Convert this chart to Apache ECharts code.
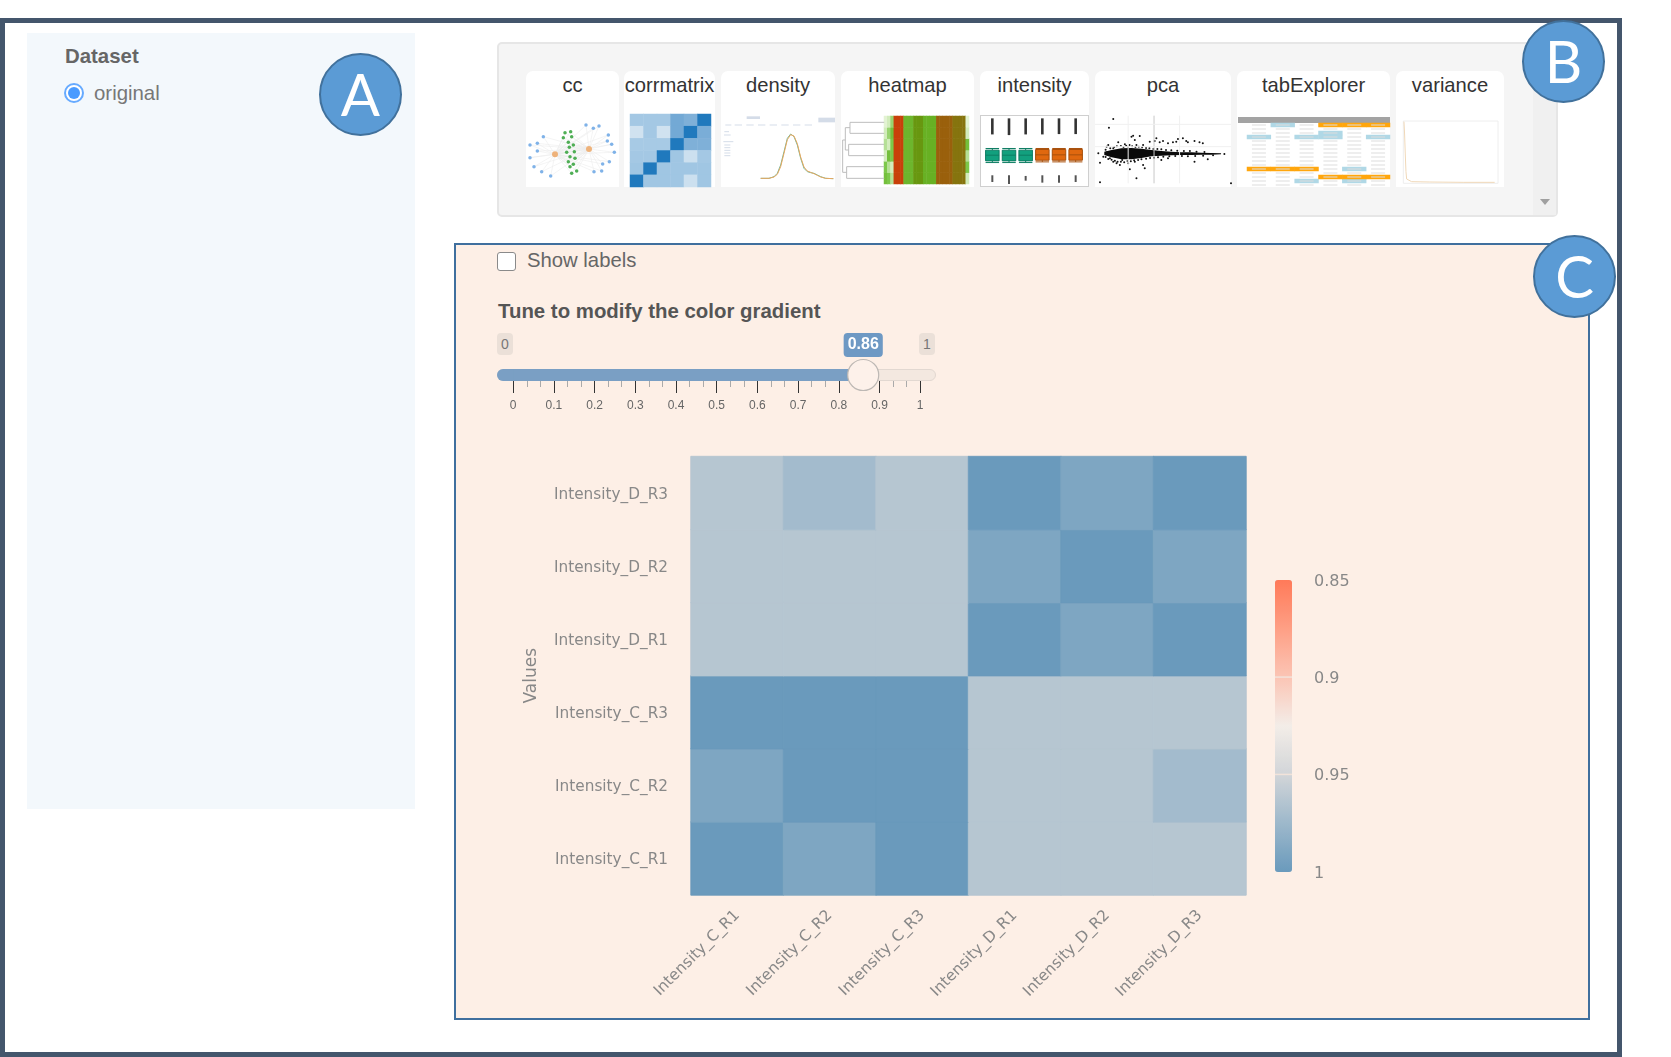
<!DOCTYPE html>
<html><head><meta charset="utf-8">
<script src="https://cdn.jsdelivr.net/npm/echarts@6/dist/echarts.min.js"></script>
<style>
html,body{margin:0;padding:0;background:#fff;width:1671px;height:1057px;overflow:hidden;font-family:"Liberation Sans",Arial,sans-serif}
.a{position:absolute;box-sizing:border-box}
.t{position:absolute;white-space:nowrap;line-height:1}
.card{position:absolute;background:#fff;border-radius:7px 7px 0 0;top:71px;height:116px;text-align:center;font-size:20.2px;color:#333;padding-top:4px;box-sizing:border-box;white-space:nowrap;line-height:20px}
.circle{position:absolute;width:83px;height:83px;border-radius:50%;background:#5b9bd5;border:2px solid #41719c;box-sizing:border-box;color:#fff;font-family:Lato,"Open Sans",sans-serif;font-size:58px;line-height:78px;text-align:center;z-index:5}
#thumbs,#main{position:absolute;left:0;top:0;width:1671px;height:1057px;z-index:3;pointer-events:none}
#thumbs{filter:blur(.55px)}
</style></head><body>
<div class="a" style="left:0;top:18px;width:1622px;height:1039px;border:5px solid #44566c"></div>
<div class="a" style="left:27px;top:33px;width:388px;height:776px;background:#f3f8fc"></div>
<div class="t" style="left:65px;top:46px;font-size:20.4px;font-weight:bold;color:#666">Dataset</div>
<div class="a" style="left:64px;top:83px;width:20px;height:20px;border-radius:50%;border:2px solid #66aaff;background:#fff"></div>
<div class="a" style="left:68px;top:87px;width:12px;height:12px;border-radius:50%;background:#4a9bff"></div>
<div class="t" style="left:94px;top:83px;font-size:20.4px;color:#777">original</div>

<div class="a" style="left:497px;top:42px;width:1061px;height:175px;background:#f5f5f5;border:2px solid #e6e6e6;border-radius:5px"></div>
<div class="a" style="left:1533px;top:44px;width:23px;height:171px;background:#f0f0f0"></div>
<div class="a" style="left:1540px;top:199px;border-left:5.5px solid transparent;border-right:5.5px solid transparent;border-top:6px solid #a0a0a0"></div>
<div class="card" style="left:526px;width:93px">cc</div>
<div class="card" style="left:624px;width:91px">corrmatrix</div>
<div class="card" style="left:721px;width:114px">density</div>
<div class="card" style="left:841px;width:133px">heatmap</div>
<div class="card" style="left:980px;width:109px">intensity</div>
<div class="card" style="left:1095px;width:136px">pca</div>
<div class="card" style="left:1237px;width:153px">tabExplorer</div>
<div class="card" style="left:1396px;width:108px">variance</div>
<div class="a" style="left:980px;top:115px;width:109px;height:72px;border:1px solid #cfcfcf;z-index:2"></div>
<div class="a" style="left:1238px;top:117px;width:152px;height:6px;background:#a3a3a3;z-index:2"></div>

<div class="a" style="left:454px;top:243px;width:1136px;height:777px;background:#fdefe6;border:2px solid #3f6f9e"></div>
<div class="a" style="left:497px;top:252px;width:19px;height:19px;background:#fff;border:1.5px solid #8a8a8a;border-radius:3px"></div>
<div class="t" style="left:527px;top:250px;font-size:20.3px;color:#666">Show labels</div>
<div class="t" style="left:498px;top:301px;font-size:20.4px;font-weight:bold;color:#555">Tune to modify the color gradient</div>
<div class="a" style="left:497px;top:333px;width:16px;height:22px;background:#ebe0d8;border-radius:4px;color:#777;font-size:14px;line-height:22px;text-align:center">0</div>
<div class="a" style="left:919px;top:333px;width:16px;height:22px;background:#ebe0d8;border-radius:4px;color:#777;font-size:14px;line-height:22px;text-align:center">1</div>
<div class="a" style="left:497px;top:369px;width:439px;height:12px;background:#f3e8e0;border:1px solid #e2d8d1;border-radius:6px"></div>
<div class="a" style="left:497px;top:369px;width:30px;height:12px;background:#7a9fc4;border-radius:6px 0 0 6px"></div>

<div id="thumbs"></div>
<div id="main"></div>

<div class="circle" style="left:319px;top:53px">A</div>
<div class="circle" style="left:1522px;top:20px">B</div>
<div class="circle" style="left:1533px;top:235px">C</div>

<script>
// ---------- main correlation heatmap ----------
const sampleLabels = ['Intensity_C_R1','Intensity_C_R2','Intensity_C_R3','Intensity_D_R1','Intensity_D_R2','Intensity_D_R3'];
const rowC_R1 = [1,0.99,1,0.963,0.963,0.963];
const rowC_R2 = [0.99,1,1,0.963,0.963,0.972];
const rowC_R3 = [1,1,1,0.963,0.963,0.963];
const rowD_R1 = [0.963,0.963,0.963,1,0.99,1];
const rowD_R2 = [0.963,0.963,0.963,0.99,1,0.99];
const rowD_R3 = [0.963,0.972,0.963,1,0.99,1];
const corrRows = [rowC_R1,rowC_R2,rowC_R3,rowD_R1,rowD_R2,rowD_R3];
const legendTicks = [0.85,0.9,0.95,1];
const legendColors = ['#ff7a59','#fe9f85','#fbc5b5','#f3ede8','#d2d5d8','#9db8cb','#6a9abc'];
const sliderValue = 0.86;

// ---------- thumbnail data, in thumbnail-picture units ----------
const netHubs = [[105,268],[207,252]];
const netBlue = [[198,180],[237,183],[220,190],[265,210],[262,228],[275,238],[283,262],[268,290],[248,297],[245,318],[222,320],[70,215],[52,235],[30,240],[52,258],[30,278],[42,305],[65,320],[92,333]];
const netGreen = [[135,203],[152,200],[130,218],[155,215],[145,232],[160,240],[148,247],[163,260],[140,262],[150,275],[165,280],[145,290],[160,298],[150,305],[170,318],[155,325]];
const thumbCorrRows = [
 [.4,.4,.4,.65,.6,1],
 [.12,.4,.12,.65,1,.62],
 [.38,.38,.38,1,.6,.6],
 [.4,.4,1,.42,.15,.4],
 [.42,1,.42,.42,.42,.42],
 [1,.42,.42,.42,.15,.42]];
const densityX = [722,747,762,772,782,792,802,812,822,832,842,852,862,872,882,892,902,917,940];
const densityA = [340,340,335,325,300,260,220,207,215,240,280,310,320,323,325,330,335,340,341];
const densityB = [340,340,336,328,305,265,224,209,213,236,276,306,318,322,326,331,336,340,341];
const densityBits = [[700,158,40,8],[920,165,50,14],[625,180,18,3],[655,180,22,3],[690,180,22,3],[725,180,22,3],[760,180,22,3],[795,180,22,3],[830,180,22,3],[865,180,22,3],[620,200,14,3],[622,210,20,3],[625,230,30,3],[622,240,18,3],[622,248,18,3],[622,256,18,3],[622,264,18,3],[622,272,18,3]];
const heatThumbBase = [.1,.2,.15,1,1,1,.3,.3,.3,.45,.45,.45,.33,.33,.33,.33,.72,.72,.72,.72,.72,.58,.58,.58,.58,.15];
const heatThumbEdges = [[.25,.2,.1,.05],[.2,.1,.05,.2],[.05,.25,.2,.1],[.1,.05,.2,.25],[.05,.15,.25,.05],[.02,.05,.15,.02]];
const dendroLines = [
 [[145,172],[42,172],[42,205],[145,205]],
 [[145,238],[38,238],[38,272],[145,272]],
 [[145,305],[32,305],[32,340],[145,340]],
 [[42,188],[28,188],[28,255],[38,255]],
 [[28,225],[20,225],[20,322],[32,322]]];
const boxValues = [[250,255,270,287,292],[250,255,270,287,292],[250,255,270,287,292],[250,253,269,285,290],[250,253,269,285,290],[250,253,269,285,290]];
const boxFill = ['#12a07e','#12a07e','#12a07e','#e0680f','#e0680f','#e0680f'];
const boxEdge = ['#0e7d63','#0e7d63','#0e7d63','#a9500c','#a9500c','#a9500c'];
const outlierUp = [[0,160,208],[1,160,210],[2,160,208],[3,160,208],[4,160,207],[5,160,207]];
const outlierDown = [[0,330,350],[1,330,356],[2,332,346],[3,330,352],[4,330,352],[5,330,350]];
const pcaBlobX = [808,830,860,890,920,950,980,1010,1040,1070,1100,1130,1160];
const pcaBlobTop = [260,255,250,249,251,255,258,260,262,262,263,264,265];
const pcaBlobBottom = [270,277,283,283,279,274,272,271,270,270,269,269,268];
const pcaPoints = [[915,213],[945,230],[960,228],[965,220],[975,232],[985,228],[1000,235],[1015,232],[1025,230],[1030,222],[1045,220],[1055,228],[1060,232],[1080,228],[1095,232],[1105,235],[835,162],[822,188],[890,215],[895,212],[795,293],[815,245],[820,240],[835,250],[850,232],[870,238],[880,245],[905,240],[900,225],[925,240],[825,280],[835,290],[845,295],[855,300],[862,285],[880,295],[900,290],[925,300],[885,313],[930,310],[815,262],[805,275],[1080,290],[1120,283],[980,285],[1000,280],[790,265],[795,352],[905,340],[1190,355],
 [812,254],[826,250],[838,246],[846,244],[858,243],[866,246],[874,242],[884,240],[892,244],[902,246],[912,245],[922,247],[934,249],[944,250],[956,252],[968,252],[980,253],[994,255],[1010,256],[1028,257],[1048,258],[1066,258],[1086,260],[1110,261],
 [812,276],[820,282],[830,284],[840,287],[848,290],[858,290],[868,292],[878,288],[888,289],[898,286],[910,285],[920,283],[934,281],[946,279],[958,278],[970,277],[986,275],[1004,274],[1022,273],[1042,273],[1060,274],[1082,273],[1106,272],[1136,271],[1170,267]];
const pcaGuides = [[[958,152],[958,355]],[[780,178],[1190,178]],[[780,245],[1190,245]],[[880,152],[880,355]],[[1035,152],[1035,355]]];
const tableCols = ['c1','c2','c3','c4','c5','c6'];
const tableRowCount = 16;
const tableBlue = [[1,0],[3,2],[0,3],[2,3],[3,3],[5,3],[4,11],[2,14],[4,14]];
const tableOrange = [[3,0],[4,0],[5,0],[0,11],[1,11],[2,11],[3,13],[4,13],[5,13]];
const varianceX = [522,524,526,528,530,535,545,600,700,795];
const varianceY = [170,210,270,320,342,347,350,351,352,352];

// ---------- thumbnails ----------
const tG=[],tX=[],tY=[],tS=[],tV=[];
function hid(o){return Object.assign({show:false},o)}
function addGrid(l,t,r,b,x,y){const i=tG.length;tG.push({left:l,top:t,width:r-l,height:b-t});
 tX.push(hid(Object.assign({gridIndex:i},x)));tY.push(hid(Object.assign({gridIndex:i},y)));return i}
function val(min,max,inv){return {type:'value',min,max,inverse:!!inv,scale:true}}
function cat(arr,inv){return {type:'category',data:arr,inverse:!!inv}}
function addS(i,s){tS.push(Object.assign({xAxisIndex:i,yAxisIndex:i,silent:true,animation:false},s));return tS.length-1}
const idx = n=>Array.from({length:n},(_,k)=>String(k));

// cc network
let g=addGrid(526,115,619,187,val(18,297),val(150,366,1));
const netAll=netHubs.concat(netBlue,netGreen);
const netLinks=[];
netBlue.concat(netGreen).forEach((p,k)=>{netLinks.push({source:0,target:k+2});netLinks.push({source:1,target:k+2})});
addS(g,{type:'graph',coordinateSystem:'cartesian2d',data:netAll.map((p,k)=>({value:p,symbolSize:k<2?6:3.5,itemStyle:{color:k<2?'#eeb27a':k<2+netBlue.length?'#7fb2e8':'#4fae55'}})),links:netLinks,lineStyle:{color:'#ececec',width:.6,opacity:1},label:{show:false},z:2});

// corrmatrix
g=addGrid(630,114,711,187,cat(idx(6)),cat(idx(6),1));
let si=addS(g,{type:'heatmap',data:thumbCorrRows.flatMap((r,y)=>r.map((v,x)=>[x,y,v]))});
tV.push({show:false,seriesIndex:si,min:0,max:1,dimension:2,inRange:{color:['#e3edf5','#c4dbed','#a4c8e4','#7fb0d8','#4f94ca','#2079bd']}});

// density
g=addGrid(721,115,835,187,val(603,945),val(150,366,1));
addS(g,{type:'scatter',symbol:'rect',data:densityBits,symbolSize:d=>[d[2]/3,d[3]/3],itemStyle:{color:'#d4dce8',opacity:1}});
addS(g,{type:'line',data:densityX.map((x,k)=>[x,densityA[k]]),symbol:'none',lineStyle:{color:'#6eb494',width:1}});
addS(g,{type:'line',data:densityX.map((x,k)=>[x,densityB[k]]),symbol:'none',lineStyle:{color:'#e8a860',width:1}});

// heatmap with dendrogram
g=addGrid(841,115,974,187,val(15,415),val(150,366,1));
dendroLines.forEach(l=>addS(g,{type:'line',data:l,symbol:'none',lineStyle:{color:'#bdbdbd',width:1}}));
g=addGrid(884,116,969,184,cat(idx(26)),cat(idx(6)));
si=addS(g,{type:'heatmap',data:heatThumbEdges.flatMap((e,y)=>heatThumbBase.map((v,x)=>[x,y,x<3?e[x]:x===25?e[3]:v]))});
tV.push({show:false,seriesIndex:si,min:0,max:1,dimension:2,inRange:{color:['#eef8e2','#7cc84a','#5da410','#8a6f0e','#a4560a','#c8400a']}});

// intensity
g=addGrid(984,115,1084,187,cat(idx(6)),val(150,365,1));
const seg=(c,w)=>(p,api)=>{const a=api.coord([api.value(0),api.value(1)]),b=api.coord([api.value(0),api.value(2)]);return {type:'line',shape:{x1:a[0],y1:a[1],x2:b[0],y2:b[1]},style:{stroke:c,lineWidth:w}}};
addS(g,{type:'boxplot',data:boxValues.map((v,k)=>({value:v,itemStyle:{color:boxFill[k],borderColor:boxEdge[k],borderWidth:1}})),boxWidth:[13.5,13.5]});
addS(g,{type:'custom',renderItem:seg('#333',2.6),data:outlierUp,encode:{x:0,y:[1,2]}});
addS(g,{type:'custom',renderItem:seg('#555',2),data:outlierDown,encode:{x:0,y:[1,2]}});

// pca
g=addGrid(1095,115,1231,187,val(780,1190),val(150,366,1));
pcaGuides.forEach((l,k)=>addS(g,{type:'line',data:l,symbol:'none',lineStyle:{color:k===0?'#c8c8c8':'#f0f0f0',width:1}}));
addS(g,{type:'custom',data:pcaBlobX.map((x,k)=>[x,pcaBlobTop[k],pcaBlobBottom[k]]),encode:{x:0,y:[1,2]},renderItem:(p,api)=>{
 if(p.dataIndex!==0) return null;
 const pts=pcaBlobX.map((x,k)=>api.coord([x,pcaBlobTop[k]])).concat(pcaBlobX.map((x,k)=>api.coord([x,pcaBlobBottom[k]])).reverse());
 return {type:'polygon',shape:{points:pts},style:{fill:'#0a0a0a'}}}});
addS(g,{type:'scatter',data:pcaPoints,symbolSize:2,itemStyle:{color:'#111',opacity:1}});

// tabExplorer
g=addGrid(1247,123,1390,187,cat(tableCols),cat(idx(tableRowCount),1));
const tableText=[];for(let r=0;r<tableRowCount;r++)for(let c=0;c<6;c++)tableText.push([c,r]);
si=addS(g,{type:'heatmap',data:tableBlue.map(p=>[p[0],p[1],1]).concat(tableOrange.map(p=>[p[0],p[1],2]))});
tV.push({show:false,seriesIndex:si,type:'piecewise',dimension:2,pieces:[{value:1,color:'#b0d8e6'},{value:2,color:'#ffa60d'}]});
addS(g,{type:'scatter',symbol:'rect',symbolSize:[14,1],data:tableText,itemStyle:{color:'#dcdcdc',opacity:1},z:4});

// variance
g=addGrid(1396,115,1504,187,val(498,823),val(150,366,1));
addS(g,{type:'line',data:[[520,168],[805,168],[805,355],[520,355],[520,168]],symbol:'none',lineStyle:{color:'#eeeeee',width:1}});
addS(g,{type:'line',data:varianceX.map((x,k)=>[x,varianceY[k]]),symbol:'none',lineStyle:{color:'#f0d8b8',width:1}});

const thumbs=echarts.init(document.getElementById('thumbs'),null,{renderer:'canvas'});
thumbs.setOption({animation:false,backgroundColor:'transparent',grid:tG,xAxis:tX,yAxis:tY,series:tS,visualMap:tV});

// ---------- main chart ----------
const main=echarts.init(document.getElementById('main'),null,{renderer:'canvas'});
const FONT='"DejaVu Sans",sans-serif', GREY='#888888';
const lgTop=580,lgH=292,lgLeft=1275,lgW=17;
const lgMin=legendTicks[0],lgMax=legendTicks[legendTicks.length-1];
const lgY=v=>lgTop+(v-lgMin)/(lgMax-lgMin)*lgH;
main.setOption({
 animation:false,backgroundColor:'transparent',
 grid:[
  {left:691,top:456.5,width:555,height:438.5,show:true,borderColor:'#d9d5d2',borderWidth:1,backgroundColor:'transparent'},
  {left:513.2,top:369,width:407,height:12}
 ],
 xAxis:[
  {type:'category',gridIndex:0,data:sampleLabels,axisLine:{show:false},axisTick:{show:false},splitArea:{show:false},
   axisLabel:{rotate:45,color:GREY,fontFamily:FONT,fontSize:15.4,margin:18,interval:0}},
  {type:'value',gridIndex:1,min:0,max:1,interval:0.1,position:'bottom',splitLine:{show:false},
   axisLine:{show:false},axisTick:{show:true,length:12,lineStyle:{color:'#333',width:1}},
   minorTick:{show:true,splitNumber:3,length:6,lineStyle:{color:'#aaa',width:1}},
   axisLabel:{color:'#666',fontSize:12,fontFamily:'"Liberation Sans",Arial,sans-serif',margin:19,formatter:v=>String(+v.toFixed(1))}}
 ],
 yAxis:[
  {type:'category',gridIndex:0,data:sampleLabels,name:'Values',nameLocation:'middle',nameGap:151,nameRotate:90,
   nameTextStyle:{color:GREY,fontFamily:FONT,fontSize:17},axisLine:{show:false},axisTick:{show:false},
   axisLabel:{color:GREY,fontSize:15.3,fontFamily:FONT,margin:23,formatter:v=>'{lab|'+v+'}',
    rich:{lab:{color:GREY,fontFamily:FONT,fontSize:15.3,padding:[3,0,0,0]}}}},
  {type:'value',gridIndex:1,min:0,max:1,show:false}
 ],
 visualMap:[{type:'continuous',seriesIndex:0,dimension:2,min:lgMin,max:lgMax,inverse:true,calculable:false,realtime:false,
  left:lgLeft,top:lgTop,itemWidth:lgW,itemHeight:lgH,text:null,showLabel:false,formatter:()=>'',textStyle:{fontSize:0},
  inRange:{color:legendColors},borderWidth:0,padding:0,hoverLink:false}],
 series:[
  {type:'heatmap',xAxisIndex:0,yAxisIndex:0,silent:true,
   data:corrRows.flatMap((r,y)=>r.map((v,x)=>({value:[x,y,v],itemStyle:{borderColor:echarts.color.lerp((v-lgMin)/(lgMax-lgMin),legendColors),borderWidth:.7}})))},
  {type:'line',xAxisIndex:1,yAxisIndex:1,data:[[0,.5],[sliderValue,.5]],symbol:'none',silent:true,z:3,
   lineStyle:{color:'#7a9fc4',width:12,cap:'butt'}},
  {type:'scatter',xAxisIndex:1,yAxisIndex:1,data:[[sliderValue,.5]],symbolSize:31,silent:true,z:5,
   itemStyle:{color:'#fdf1ea',borderColor:'#bdb8b4',borderWidth:1.2,opacity:1},
   label:{show:true,position:'top',distance:2,formatter:p=>String(p.value[0]),backgroundColor:'#6e99c4',color:'#fff',
    fontWeight:'bold',fontSize:16,fontFamily:'"Liberation Sans",Arial,sans-serif',padding:[4,4,4,4],borderRadius:4}}
 ],
 graphic:legendTicks.map(v=>({type:'text',silent:true,left:1314,top:lgY(v)-6.5,z:10,
   style:{text:String(v),fill:GREY,font:'16px '+FONT}}))
   .concat(legendTicks.slice(1,3).map(v=>({type:'rect',silent:true,z:10,shape:{x:lgLeft,y:lgY(v)-1,width:lgW,height:1.5},style:{fill:'#f2e3da'}})))
});
</script>
</body></html>
